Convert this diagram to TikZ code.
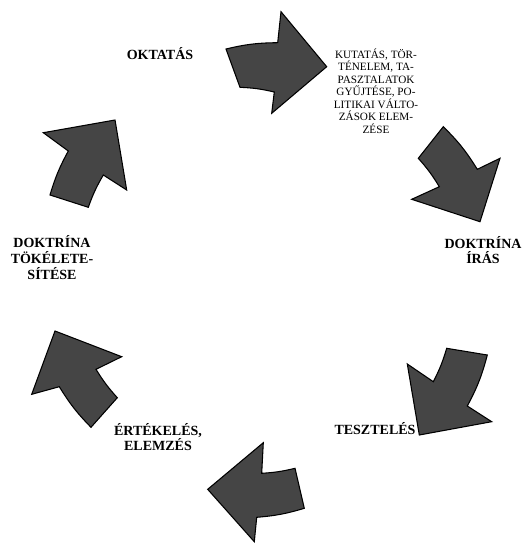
\documentclass[tikz,border=0pt]{standalone}
\usepackage{fontspec}
\setmainfont{Liberation Serif}
\newfontfamily\lserif{Liberation Serif}
\definecolor{arrowgray}{HTML}{454545}
\begin{document}
\begin{tikzpicture}[x=0.75pt,y=-0.75pt,
  cyc/.style={fill=arrowgray, draw=black, line width=0.8pt, line join=miter},
  lbl/.style={font=\lserif\fontsize{10.5}{11.8}\selectfont\bfseries, align=center, inner sep=0pt},
  small/.style={font=\lserif\fontsize{8.4}{9.4}\selectfont, align=center, inner sep=0pt}]
\useasboundingbox (0,0) rectangle (525,543);
% arrows
\path[cyc] (226,49) to[bend left=6.4] (277.7,42.7) -- (281,11.7) -- (326.7,66.7) -- (271.7,113.3) -- (274.3,92) to[bend right=5.2] (240,87.3) -- cycle;
\path[cyc] (443.3,126.7) to[bend left=6.7] (477.3,169.3) -- (500,158.3) -- (480,221.7) -- (411.7,199.3) -- (439.3,186.7) to[bend right=5.2] (418.3,158.3) -- cycle;
\path[cyc] (487.3,355) to[bend left=6.7] (467.3,406) -- (491.7,421.7) -- (419.3,435) -- (407.3,364) -- (433.3,381.7) to[bend right=5.3] (446.7,348.3) -- cycle;
\path[cyc] (304.3,508.3) to[bend left=6] (256.7,517.3) -- (254.3,541.7) -- (207.7,489.3) -- (263.3,442.7) -- (261.7,473.3) to[bend right=5] (295,468.3) -- cycle;
\path[cyc] (91,427.3) to[bend left=6.3] (59.3,386.7) -- (31.7,394.3) -- (55,331) -- (121.7,356.7) -- (96,369.3) to[bend right=5.2] (117.3,397.7) -- cycle;
\path[cyc] (50,195) to[bend left=5.9] (68.3,151) -- (43.3,132.7) -- (115,120) -- (126.7,190) -- (103.3,175) to[bend right=5.3] (88.3,207.3) -- cycle;
% labels
\node[lbl] (oktatas) at (160,54) {OKTATÁS};
\node[small] (kutatas) at (376,91) {KUTATÁS, TÖR-\\TÉNELEM, TA-\\PASZTALATOK\\GYŰJTÉSE, PO-\\LITIKAI VÁLTO-\\ZÁSOK ELEM-\\ZÉSE};
\node[lbl] (iras) at (483,250) {DOKTRÍNA\\ÍRÁS};
\node[lbl] (teszt) at (375,429) {TESZTELÉS};
\node[lbl] (ertek) at (158,437) {ÉRTÉKELÉS,\\ELEMZÉS};
\node[lbl] (tokel) at (52,257.5) {DOKTRÍNA\\TÖKÉLETE-\\SÍTÉSE};
\end{tikzpicture}
\end{document}
